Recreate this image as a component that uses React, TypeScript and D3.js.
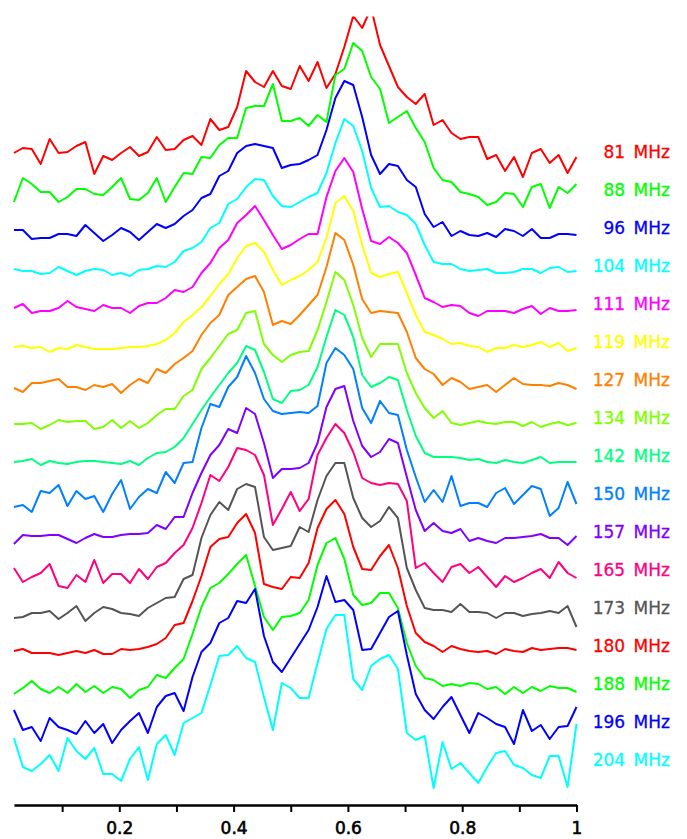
import React, { useEffect, useRef } from 'react';
import * as d3 from 'd3';

// observing frequencies, top to bottom
const freqs = [81, 88, 96, 104, 111, 119, 127, 134, 142, 150, 157, 165, 173, 180, 188, 196, 204];
const colors = [
  '#ff0000', '#00ff00', '#0000ff', '#00ffff', '#ff00ff', '#ffff00', '#ff8000', '#80ff00',
  '#00ff80', '#0080ff', '#8000ff', '#ff0080', '#555555', '#ff0000', '#00ff00', '#0000ff', '#00ffff',
];

// pulse profiles, 64 phase bins each (arbitrary flux units, peak ~150)
const p81 = [4, 9, 8, -7, 18, 4, 5, 11, 15, -17, 1, -3, 4, 10, 1, 5, 20, 7, 8, 17, 21, 12, 38, 27, 30, 50, 86, 75, 70, 86, 71, 68, 91,
  76, 95, 69, 83, 110, 141, 129, 149, 112, 91, 70, 60, 53, 63, 32, 37, 24, 18, 20, 20, -2, 2, -14, 0, -20, 4, 8, -6, 2, -16, 0];
const p88 = [-7, 17, 11, 3, 3, -7, -2, 6, 6, 1, 0, 8, 17, -4, -5, 2, 17, -7, 8, 22, 21, 38, 37, 50, 57, 57, 87, 89, 89, 111, 74, 74, 77,
  69, 80, 73, 120, 126, 152, 144, 118, 106, 72, 78, 84, 67, 53, 27, 15, 13, 3, 1, -2, -10, -7, 2, 1, -12, 8, 11, -13, 8, 2, 11];
const p96 = [3, 3, -6, -5, -5, -1, -1, -3, 8, 0, -8, -2, 5, 1, -7, 1, 9, 5, 9, 17, 23, 35, 39, 57, 62, 80, 87, 89, 87, 85, 65, 68, 69,
  73, 78, 103, 135, 152, 148, 116, 78, 59, 69, 67, 53, 46, 19, 6, 11, -3, 2, -2, -3, 0, -4, 4, 2, -3, 4, -5, -5, -1, -1, -2];
const p104 = [2, 0, 0, -3, -2, 4, 0, -4, 0, 2, 1, -4, -2, -5, 1, 2, 5, 4, 9, 20, 23, 29, 43, 48, 67, 72, 84, 92, 91, 75, 65, 64, 69,
  74, 78, 98, 128, 152, 145, 120, 83, 64, 65, 59, 56, 47, 26, 9, 7, 7, 2, 0, 1, 2, -2, -2, -1, 2, 2, -2, 3, 4, -1, 0];
const p111 = [1, 5, -4, -2, -2, 1, 8, 2, 0, -2, 4, 1, 1, -4, 3, 6, 6, 11, 19, 17, 22, 36, 46, 61, 69, 86, 94, 103, 89, 74, 60, 64, 70,
  75, 75, 112, 138, 151, 137, 100, 68, 65, 72, 66, 56, 34, 11, 7, 2, 4, 3, -4, -7, -2, -2, -2, -4, 0, 3, -5, 1, -2, -2, -1];
const p119 = [0, 1, -1, 0, -5, -1, -2, 2, 0, -2, -2, -2, -1, 0, 0, 1, 3, 7, 14, 25, 32, 40, 51, 63, 73, 89, 101, 104, 95, 77, 62, 67, 71,
  77, 85, 109, 144, 151, 136, 102, 74, 70, 73, 75, 54, 32, 15, 12, 8, 3, 4, 1, 0, -5, -1, -1, 2, 0, 2, 5, 0, 4, -4, -1];
const p127 = [-3, -7, 2, 2, 4, 6, -2, -2, -5, 0, -2, 1, -8, 0, 6, 2, 16, 12, 21, 27, 34, 50, 62, 70, 90, 98, 106, 109, 93, 60, 64, 61, 70,
  80, 90, 118, 152, 145, 120, 86, 72, 74, 73, 72, 53, 27, 16, 11, 0, 7, 3, -4, -2, 0, -7, 0, 7, 1, 0, 0, -1, 2, 0, -4];
const p134 = [-1, -1, 0, -6, -2, 3, 1, 2, 2, -6, -4, 3, -5, 2, -5, 0, 8, 14, 14, 27, 33, 54, 65, 77, 89, 93, 110, 112, 79, 68, 61, 68, 71,
  72, 93, 121, 151, 143, 118, 85, 66, 79, 79, 79, 50, 30, 15, 5, 12, 0, -2, 0, 2, 0, -1, 1, 1, -3, 1, -4, -1, 1, -2, 0];
const p142 = [-1, 0, 2, -4, 0, -2, -3, -1, 0, 0, -1, -2, -3, 0, -4, 3, 8, 9, 14, 23, 37, 51, 64, 76, 88, 98, 115, 111, 89, 62, 58, 70, 71,
  76, 94, 124, 151, 146, 124, 86, 74, 78, 84, 81, 51, 25, 8, 4, 4, 4, 3, 1, 2, -1, -2, 1, -1, -2, 1, 4, -2, -1, -1, -1];
const p150 = [-8, -6, -13, 8, 6, 14, -7, 8, 0, 3, -13, 5, 19, -10, 2, 10, 6, 27, 16, 36, 37, 71, 95, 92, 112, 122, 143, 126, 100, 88, 85, 86, 87,
  86, 93, 136, 151, 144, 130, 91, 76, 98, 86, 84, 49, 22, -3, 9, -3, 23, -7, -4, -4, -8, 6, 11, -5, 4, 13, 10, -17, -9, 17, -5];
const p157 = [-7, 2, 1, 1, 2, 2, -2, -6, -1, 3, 0, 0, 2, 3, 3, 4, 12, 8, 20, 20, 44, 64, 82, 92, 108, 104, 129, 123, 94, 59, 68, 68, 69,
  74, 94, 130, 148, 151, 116, 91, 80, 85, 98, 94, 60, 27, 6, 14, 6, 4, 8, -4, -1, -4, -6, -1, -1, 0, 1, 3, -1, -1, -8, 1];
const p165 = [7, -7, -2, 2, 11, -11, -13, 0, -7, 15, -8, 1, 1, -8, 6, -4, 8, 12, 22, 30, 47, 72, 100, 94, 108, 127, 125, 120, 100, 50, 66, 83, 64,
  76, 120, 137, 151, 142, 123, 97, 92, 90, 92, 91, 74, 7, 12, 2, -7, 8, 11, 2, 8, -2, -12, -1, -7, -3, 2, 6, -3, 13, 2, -3];
const p173 = [-5, -4, 0, 0, 2, -6, 0, 7, -8, 0, 6, 4, 0, -1, -3, 5, 10, 15, 16, 34, 38, 75, 98, 111, 103, 124, 129, 126, 76, 63, 65, 67, 86,
  81, 113, 137, 150, 150, 115, 95, 86, 92, 106, 95, 45, 23, 5, 3, 3, 1, 9, 1, 1, 0, -5, 0, 0, -3, -1, 0, 2, 0, 7, -14];
const p180 = [0, 2, -2, -2, -2, -4, -2, 0, -2, 1, -3, -3, 2, 1, 2, 4, 7, 13, 26, 28, 50, 75, 104, 112, 114, 128, 137, 118, 67, 64, 62, 74, 73,
  88, 123, 142, 151, 137, 104, 82, 81, 95, 106, 83, 45, 18, 9, 5, -1, 5, 2, 0, -1, 0, -3, 2, 0, -1, 3, 1, 2, 3, 3, 1];
const p188 = [-5, 1, 8, 0, -4, 2, -4, 5, -3, 3, -4, 2, 0, -9, -1, 2, 14, 11, 21, 30, 55, 82, 101, 106, 115, 125, 134, 103, 72, 59, 72, 73, 76,
  89, 124, 146, 151, 130, 94, 84, 86, 96, 96, 81, 46, 23, 11, 9, 3, 5, 3, 6, 5, 0, 2, -5, 2, -4, 2, -2, 3, 1, 1, -3];
const p196 = [17, -3, 0, -14, 9, 0, -3, -7, 6, -6, 3, -16, -3, 6, 14, -6, 20, 31, 34, 16, 50, 75, 84, 104, 109, 126, 124, 138, 91, 65, 55, 69, 83,
  97, 120, 151, 125, 127, 117, 77, 78, 94, 110, 116, 72, 33, 17, 8, 20, 30, 12, -6, 14, 9, 3, 0, -17, 17, -4, 2, -12, 0, 1, 20];
const p204 = [27, -2, -6, 1, 10, -6, 27, 14, 6, 17, -9, -9, -16, 6, 18, -15, 21, 30, 10, 42, 47, 52, 80, 109, 110, 119, 107, 103, 68, 35, 82, 77, 67,
  67, 102, 136, 150, 150, 86, 75, 99, 106, 110, 96, 32, 25, 29, -23, 23, -4, 2, -8, -18, -2, 12, 14, 0, -3, -10, -13, 9, 9, -22, 41];

const profiles = [p81, p88, p96, p104, p111, p119, p127, p134, p142, p150, p157, p165, p173, p180, p188, p196, p204];
const xTicks = [0.1, 0.2, 0.3, 0.4, 0.5, 0.6, 0.7, 0.8, 0.9, 1];
const spacing = 38; // vertical offset between profiles, same units

const W = 687;
const H = 839;
const font = "'DejaVu Sans', Verdana, sans-serif";

export default function App() {
  const svgRef = useRef<SVGSVGElement>(null);

  useEffect(() => {
    const svg = d3.select(svgRef.current);
    svg.selectAll('*').remove();

    const nBins = 64;
    const phase = d3.range(1, nBins + 1).map(i => i / nBins);

    const x = d3.scaleLinear().domain([0, 1]).range([5, 576.5]);
    const y = d3.scaleLinear().domain([-40, 748.5]).range([805, 16.5]);

    svg.append('defs').append('clipPath').attr('id', 'plotclip')
      .append('rect')
      .attr('x', 0).attr('y', y(748.5))
      .attr('width', x(1) + 4).attr('height', y(-40) - y(748.5));

    const lines = svg.append('g').attr('clip-path', 'url(#plotclip)');
    const n = profiles.length;

    profiles.forEach((vals, k) => {
      const off = (n - 1 - k) * spacing;
      const line = d3.line<number>()
        .x((_, i) => x(phase[i]))
        .y(d => y(d + off));

      lines.append('path')
        .datum(vals)
        .attr('fill', 'none')
        .attr('stroke', colors[k])
        .attr('stroke-width', 2)
        .attr('stroke-linejoin', 'round')
        .attr('d', line);

      svg.append('text')
        .attr('x', 670)
        .attr('y', y(off) + 1)
        .attr('text-anchor', 'end')
        .attr('font-family', font)
        .attr('font-size', 17)
        .attr('fill', colors[k])
        .attr('stroke', colors[k])
        .attr('stroke-width', 0.3)
        .text(`${freqs[k]}\u2002MHz`);
    });

    // x axis, drawn over the phase range covered by the bins
    const axisScale = x.copy().domain([phase[0], 1]).range([x(phase[0]), x(1)]);
    const fmt = d3.format('~g');
    const axis = d3.axisBottom(axisScale)
      .tickValues(xTicks)
      .tickSize(7)
      .tickSizeOuter(0)
      .tickPadding(10)
      .tickFormat(d => (Math.round(+d * 10) % 2 === 0 ? fmt(+d) : ''));

    const gx = svg.append('g')
      .attr('transform', `translate(0,${y(-40)})`)
      .call(axis);
    gx.attr('font-family', font).attr('font-size', 17);
    gx.select('.domain').attr('stroke', '#000').attr('stroke-width', 2.5);
    gx.selectAll('.tick line').attr('stroke', '#000').attr('stroke-width', 2);
    gx.selectAll('.tick text')
      .attr('fill', '#000')
      .attr('stroke', '#000')
      .attr('stroke-width', 0.6);
  }, []);

  return (
    <svg
      ref={svgRef}
      width={W}
      height={H}
      style={{ position: 'absolute', left: 0, top: 0, background: '#fff' }}
    />
  );
}
